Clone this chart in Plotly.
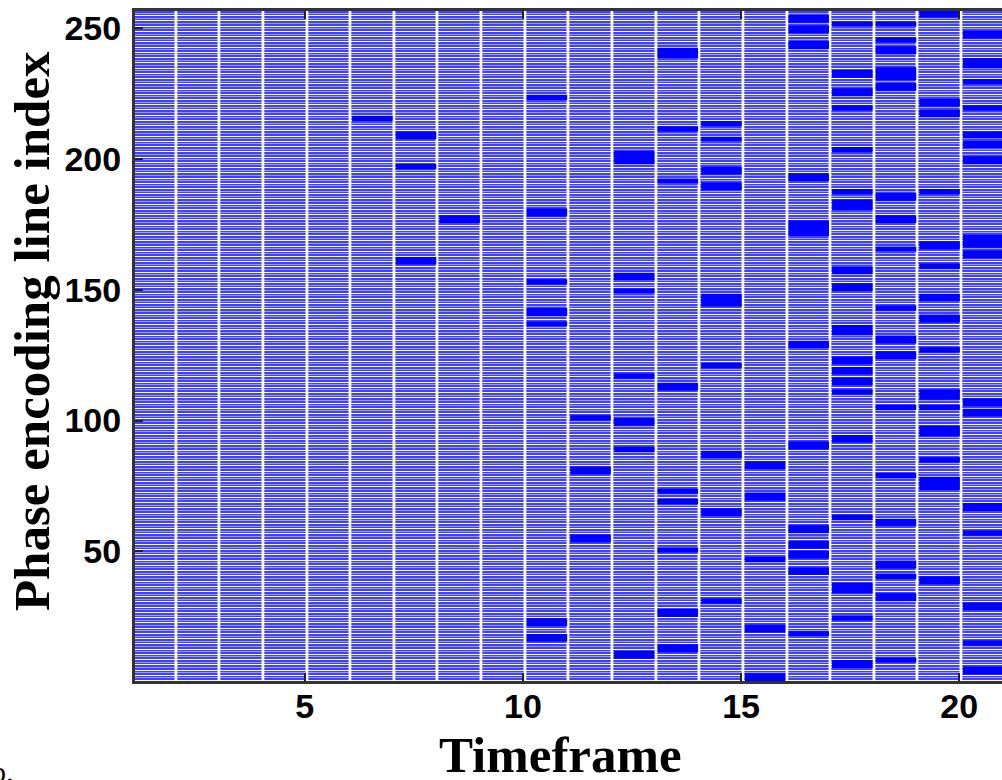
import plotly.graph_objects as go

# ---------------- data ----------------
timeframes = list(range(1, 21))          # visible timeframes (columns)
phase_lines = list(range(1, 257))        # phase-encoding line indices (rows)

# acquired blocks of consecutive lines drawn in solid blue: (timeframe, centre line, number of lines)
block_frames = (
    [6] +
    [7, 7, 7] +
    [8] +
    [10] * 7 +
    [11] * 3 +
    [12] * 7 +
    [13] * 9 +
    [14] * 9 +
    [15] * 5 +
    [16] * 12 +
    [17] * 19 +
    [18] * 18 +
    [19] * 15 +
    [20] * 16
)
block_centres = [
    215.5,
    209, 197, 161,
    177,
    223.5, 179.5, 153, 141.5, 137, 23, 17,
    101, 81, 55,
    200.5, 155, 149.5, 117, 99.5, 89, 10.5,
    240.5, 211.5, 191.5, 113, 73, 69, 50.5, 26.5, 13,
    213.5, 207.5, 195.5, 189.5, 146, 121, 87, 65, 31,
    83, 71, 47, 20.5, 2,
    253.5, 249.5, 243.5, 193, 173.5, 129, 90.5, 58.5, 52.5, 48.8, 42.5, 18.5,
    251.5, 232.5, 225.5, 219.5, 203.5, 187.5, 182.5, 157.5, 151, 134.5, 123, 119, 115, 111, 93, 63, 36, 24.5, 7,
    251.5, 245.5, 241.5, 232.5, 227.5, 185.5, 177, 165.5, 143, 131, 125, 105, 79, 61, 45, 40.5, 32.5, 8.5,
    255.5, 221.5, 217.5, 187.5, 167, 159, 147, 139, 127, 110, 105, 96, 85, 76, 39,
    247.5, 236.5, 229.5, 219.5, 209.2, 205.5, 199.5, 168.5, 163.5, 107, 103, 67, 57, 29, 15, 4.5,
]
block_sizes = [
    2,
    3, 2, 3,
    3,
    2, 3, 2, 3, 2, 3, 3,
    2, 3, 3,
    5, 3, 2, 2, 3, 2, 3,
    4, 2, 2, 3, 2, 2, 2, 3, 3,
    2, 2, 3, 3, 5, 2, 3, 3, 2,
    3, 3, 2, 3, 3,
    3, 3, 3, 3, 6, 3, 3, 3, 3, 3, 3, 2,
    2, 3, 3, 2, 2, 2, 4, 3, 3, 4, 3, 3, 3, 2, 3, 2, 4, 2, 3,
    2, 2, 3, 5, 3, 3, 3, 2, 2, 3, 3, 2, 2, 3, 3, 2, 3, 2,
    3, 3, 3, 2, 3, 2, 3, 3, 2, 4, 2, 4, 2, 5, 3,
    3, 4, 2, 2, 2.6, 2.6, 3, 5, 3, 3, 3, 3, 2, 3, 2, 3,
]

x_tick_vals = [5, 10, 15, 20]
y_tick_vals = [50, 100, 150, 200, 250]

# ---------------- figure ----------------
COL_SHIFT = 0.55   # column centres sit between integer timeframes
STRIPE = "#4040FF"
HALO = "#9C9CFF"   # soft line between neighbouring rows (screen aliasing look)
SOLID = "#0000FF"

cols = [t + COL_SHIFT for t in timeframes]
z_lines = [[1 for _ in timeframes] for _ in phase_lines]
pair_rows = phase_lines[::2]
z_pairs = [[1 for _ in timeframes] for _ in pair_rows]

fig = go.Figure()
# underlay: every second row boundary shows white, the others a pale blue
fig.add_trace(go.Heatmap(
    x=cols,
    y=[r + 0.5 for r in pair_rows],
    z=z_pairs,
    colorscale=[[0, HALO], [1, HALO]],
    showscale=False,
    xgap=3,
    ygap=1,
    hoverinfo="skip",
))
fig.add_trace(go.Heatmap(
    x=cols,
    y=phase_lines,
    z=z_lines,
    colorscale=[[0, STRIPE], [1, STRIPE]],
    showscale=False,
    xgap=3,
    ygap=1,
    hoverinfo="skip",
))
fig.add_trace(go.Bar(
    x=[f + COL_SHIFT for f in block_frames],
    y=block_sizes,
    base=[c - s / 2 for c, s in zip(block_centres, block_sizes)],
    width=0.93,
    marker=dict(color=SOLID, line=dict(width=0)),
    hoverinfo="skip",
    showlegend=False,
))

tick_font = dict(family="Liberation Sans, Arial, sans-serif", size=34, color="black", weight="bold")
title_font = dict(family="Liberation Serif, Times New Roman, serif", size=51, color="black", weight="bold")

fig.update_layout(
    width=1002,
    height=780,
    margin=dict(l=135, r=0, t=11, b=99),
    paper_bgcolor="white",
    plot_bgcolor="white",
    barmode="overlay",
    showlegend=False,
    xaxis=dict(
        range=[1.11, 20.98],
        tickvals=x_tick_vals,
        ticks="inside",
        ticklen=8,
        tickwidth=2,
        tickcolor="#222",
        showline=True,
        linecolor="#333",
        linewidth=3,
        mirror="ticks",
        showgrid=False,
        zeroline=False,
        tickfont=tick_font,
        ticklabelstandoff=-7,
    ),
    yaxis=dict(
        range=[0.5, 256.5],
        tickvals=y_tick_vals,
        ticks="inside",
        ticklen=8,
        tickwidth=2,
        tickcolor="#222",
        showline=True,
        linecolor="#333",
        linewidth=3,
        mirror=False,
        showgrid=False,
        zeroline=False,
        tickfont=tick_font,
        ticklabelstandoff=4,
    ),
    annotations=[
        dict(text="Timeframe", xref="paper", yref="paper", x=0.4905, y=-0.111,
             xanchor="center", yanchor="middle", showarrow=False, font=title_font),
        dict(text="Phase encoding line index", xref="paper", yref="paper", x=-0.119, y=0.522,
             xanchor="center", yanchor="middle", textangle=-90, showarrow=False, font=title_font),
        dict(text="b.", xref="paper", yref="paper", x=-0.1527, y=-0.135,
             xanchor="center", yanchor="middle", showarrow=False,
             font=dict(family="Liberation Serif, Times New Roman, serif", size=30, color="black")),
    ],
)

fig.write_html("out.html")
